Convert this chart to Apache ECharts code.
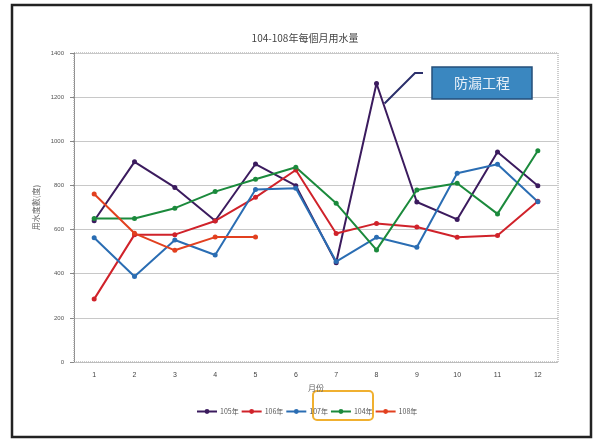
<!DOCTYPE html>
<html><head><meta charset="utf-8">
<script src="https://cdn.jsdelivr.net/npm/echarts@6/dist/echarts.min.js"></script>
<style>html,body{margin:0;padding:0;background:#fff}#c{width:595px;height:439px}</style>
</head><body><div id="c"></div>
<script>
const months = ['1','2','3','4','5','6','7','8','9','10','11','12'];
const y105 = [640, 907, 791, 640, 897, 799, 450, 1262, 725, 646, 951, 799];
const y106 = [285, 577, 577, 639, 746, 870, 582, 628, 612, 565, 573, 728];
const y107 = [563, 387, 553, 485, 782, 787, 455, 565, 520, 855, 896, 726];
const y104 = [650, 650, 697, 772, 828, 882, 719, 508, 779, 810, 671, 957];
const y108 = [761, 583, 506, 566, 566];
const yTicks = [0, 200, 400, 600, 800, 1000, 1200, 1400];
const names = ['105年','106年','107年','104年','108年'];
const colors = ['#3b1b5e','#d0222a','#2a6db3','#1b8a3c','#e2401f'];
const annoText = '防漏工程';

const chart = echarts.init(document.getElementById('c'));
const mk = (name, data, color) => ({
  name, type: 'line', data, color,
  symbol: 'circle', symbolSize: 5, showSymbol: true,
  lineStyle: {width: 2, color}, itemStyle: {color},
  emphasis: {disabled: true}, animation: false
});
chart.setOption({
  animation: false,
  backgroundColor: '#fff',
  title: {text: '104-108年每個月用水量', left: 300, top: 28, textAlign: 'center',
    textStyle: {fontSize: 10, fontWeight: 'normal', color: '#444', fontFamily: 'Noto Sans CJK TC'}},
  grid: {left: 74, right: 37, top: 53, bottom: 77, show: true, borderColor: '#999', borderWidth: 1,
    borderType: 'dotted'},
  legend: {data: names, left: 191, top: 403, itemWidth: 20, itemHeight: 6, itemGap: 2,
    textStyle: {fontSize: 7, color: '#555', fontFamily: 'Noto Sans CJK TC', padding: [0, 0, 0, -2]}},
  xAxis: {type: 'category', data: months, boundaryGap: true, name: '月份', nameLocation: 'middle', nameGap: 22,
    nameTextStyle: {fontSize: 8, color: '#666', fontFamily: 'Noto Sans CJK TC'},
    axisLine: {lineStyle: {color: '#bbb', type: 'dotted'}}, axisTick: {show: false},
    axisLabel: {fontSize: 7, color: '#444', margin: 10}},
  yAxis: {type: 'value', min: 0, max: 1400, interval: 200, name: '用水度數(度)', nameLocation: 'middle', nameGap: 30,
    nameTextStyle: {fontSize: 8, color: '#666', fontFamily: 'Noto Sans CJK TC'},
    axisLine: {show: true, lineStyle: {color: '#888', type: 'dotted'}},
    axisTick: {show: true, length: 4, lineStyle: {color: '#888'}},
    axisLabel: {fontSize: 6, color: '#555', margin: 10, formatter: v => yTicks.includes(v) ? String(v) : ''},
    splitLine: {lineStyle: {color: '#c8c8c8', width: 1}}},
  series: [mk(names[0], y105, colors[0]), mk(names[1], y106, colors[1]), mk(names[2], y107, colors[2]),
           mk(names[3], y104, colors[3]), mk(names[4], y108, colors[4])]
});

const peak = chart.convertToPixel({xAxisIndex: 0, yAxisIndex: 0}, [7, y105[7]]);
chart.setOption({graphic: [
  {type: 'rect', shape: {x: 12, y: 5, width: 579, height: 432}, style: {fill: 'none', stroke: '#222', lineWidth: 2.5}},
  {type: 'polyline', shape: {points: [[peak[0] + 8, peak[1] + 20], [415, 73], [423, 73]]},
    style: {stroke: '#2b2f6b', lineWidth: 2, fill: 'none'}},
  {type: 'rect', shape: {x: 432, y: 67, width: 100, height: 32}, style: {fill: '#3a87c0', stroke: '#254f7a', lineWidth: 1.5}},
  {type: 'text', x: 482, y: 83, style: {text: annoText, fill: '#e8f0f8', fontSize: 14, align: 'center', verticalAlign: 'middle',
    fontFamily: 'Noto Sans CJK TC'}},
  {type: 'rect', shape: {x: 313, y: 391, width: 60, height: 29, r: 4}, style: {fill: 'none', stroke: '#f0b030', lineWidth: 2}}
]});
</script></body></html>
